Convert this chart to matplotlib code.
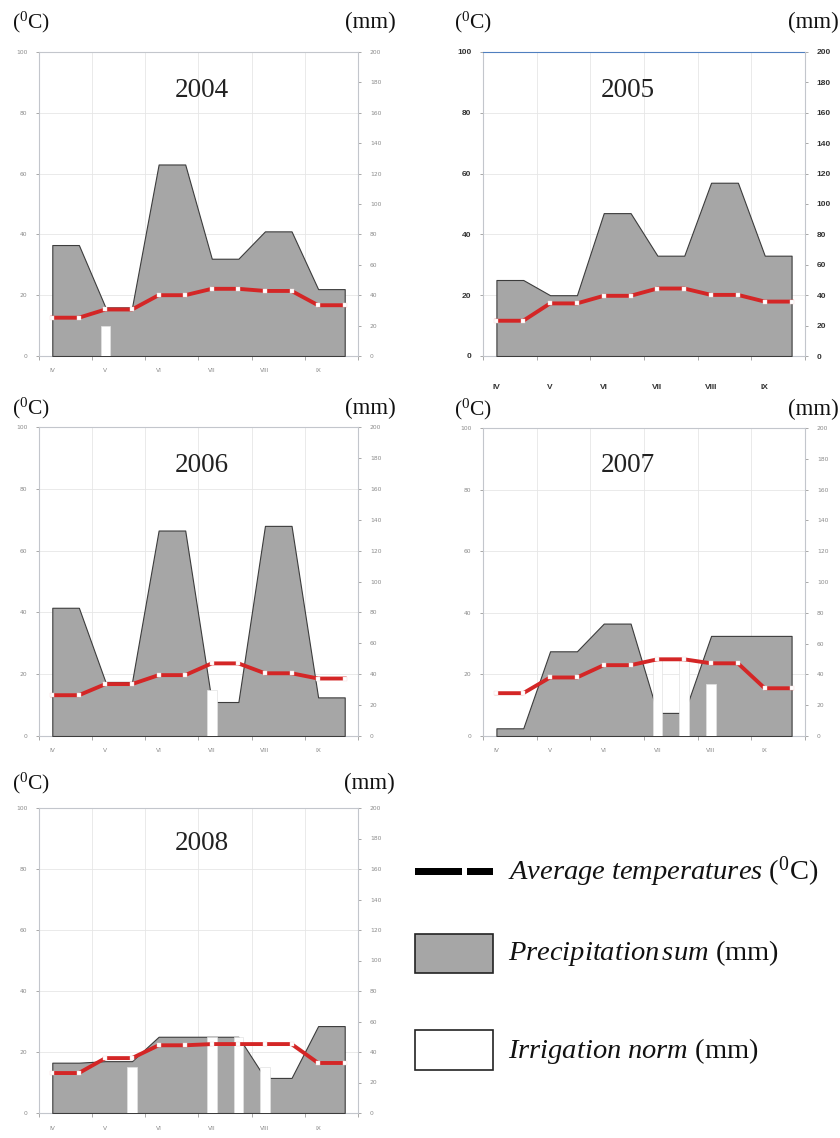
import numpy as np
import matplotlib
matplotlib.use("Agg")
import matplotlib.pyplot as plt
from matplotlib.patches import Rectangle

plt.rcParams['font.family'] = ['Liberation Serif', 'DejaVu Serif']
plt.rcParams['mathtext.fontset'] = 'custom'
plt.rcParams['mathtext.rm'] = 'Liberation Serif'
plt.rcParams['mathtext.it'] = 'Liberation Serif:italic'
plt.rcParams['mathtext.bf'] = 'Liberation Serif:bold'

# ---------------- data ----------------
months = ['IV', 'V', 'VI', 'VII', 'VIII', 'IX']
years = ['2004', '2005', '2006', '2007', '2008']
temp_ticks = [0, 20, 40, 60, 80, 100]
mm_ticks = [0, 20, 40, 60, 80, 100, 120, 140, 160, 180, 200]

# average temperature (deg C), two points per month
temp_2004 = [12.6, 12.6, 15.3, 15.3, 20.0, 20.0, 22.1, 22.1, 21.4, 21.4, 16.7, 16.7]
temp_2005 = [11.6, 11.6, 17.3, 17.3, 19.8, 19.8, 22.2, 22.2, 20.1, 20.1, 17.9, 17.9]
temp_2006 = [13.2, 13.2, 16.8, 16.8, 19.7, 19.7, 23.5, 23.5, 20.3, 20.3, 18.6, 18.6]
temp_2007 = [13.9, 13.9, 19.0, 19.0, 23.0, 23.0, 24.9, 24.9, 23.6, 23.6, 15.5, 15.5]
temp_2008 = [13.1, 13.1, 18.0, 18.0, 22.2, 22.2, 22.6, 22.6, 22.6, 22.6, 16.4, 16.4]

# precipitation sum (mm), two points per month
prec_2004 = [73, 73, 32, 32, 126, 126, 64, 64, 82, 82, 44, 44]
prec_2005 = [50, 50, 40, 40, 94, 94, 66, 66, 114, 114, 66, 66]
prec_2006 = [83, 83, 35, 35, 133, 133, 22, 22, 136, 136, 25, 25]
prec_2007 = [5, 5, 55, 55, 73, 73, 15, 15, 65, 65, 65, 65]
prec_2008 = [33, 33, 34, 34, 50, 50, 50, 50, 23, 23, 57, 57]

# irrigation norm (mm)
irr_2004 = [0, 0, 20, 0, 0, 0, 0, 0, 0, 0, 0, 0]
irr_2005 = [0, 0, 0, 0, 0, 0, 0, 0, 0, 0, 0, 0]
irr_2006 = [0, 0, 0, 0, 0, 0, 30, 0, 0, 0, 0, 0]
irr_2007 = [0, 0, 0, 0, 0, 0, 50, 50, 34, 0, 0, 0]
irr_2008 = [0, 0, 0, 30, 0, 0, 50, 50, 30, 0, 0, 0]

temps = [temp_2004, temp_2005, temp_2006, temp_2007, temp_2008]
precs = [prec_2004, prec_2005, prec_2006, prec_2007, prec_2008]
irrs = [irr_2004, irr_2005, irr_2006, irr_2007, irr_2008]

# ---------------- layout (pixels) ----------------
W, H = 840, 1138
fig = plt.figure(figsize=(W / 100, H / 100), dpi=100)
fig.patch.set_facecolor('white')

# (left, top, right, bottom) of each plot frame
frames = [(39, 52, 358, 356), (483, 52, 805, 356),
          (39, 427, 358, 736), (483, 428, 805, 736),
          (39, 808, 358, 1113)]
title_pos = [(202, 90), (628, 90), (202, 465), (628, 465), (202, 843)]
unit_y = [22, 22, 408, 409, 783]
unit_cx = [(31, 370), (473, 813), (31, 370), (473, 813), (31, 369)]

SPINE = '#c3c6cc'
TICKC = '#9a9a9a'


def to_fig(L, T, R, B):
    return [L / W, 1 - B / H, (R - L) / W, (B - T) / H]


for i, yr in enumerate(years):
    special = (yr == '2005')
    x = np.arange(len(temps[i]))
    ax = fig.add_axes(to_fig(*frames[i]))
    ax.set_xlim(-0.5, len(x) - 0.5)
    ax.set_ylim(0, 100)
    ax.set_axisbelow(True)
    bounds = np.arange(-0.5, len(x), 2)
    lab_pos = np.arange(0, len(x), 2)
    ax.set_xticks(bounds)
    ax.set_xticks(lab_pos, minor=True)
    ax.set_xticklabels(months, minor=True)
    ax.set_yticks(temp_ticks)
    ax.grid(True, which='major', color='#e6e6e6', lw=0.6)

    if special:
        lfam, lsize, lcol, xpad = 'Liberation Sans', 6.0, '#333333', 20
    else:
        lfam, lsize, lcol, xpad = 'DejaVu Sans', 4.3, '#8a8a8a', 9
    ax.tick_params(axis='y', direction='out', length=2.5, width=0.6, color=TICKC,
                   labelsize=lsize, labelcolor=lcol, pad=6, labelfontfamily=lfam)
    ax.tick_params(axis='x', which='major', direction='out', length=3, width=0.6,
                   color=TICKC, labelbottom=False)
    ax.tick_params(axis='x', which='minor', length=0, labelsize=lsize,
                   labelcolor=lcol, pad=xpad, labelfontfamily=lfam)
    for sp in ['left', 'top', 'bottom']:
        ax.spines[sp].set_color(SPINE)
        ax.spines[sp].set_linewidth(0.8)
    ax.spines['right'].set_visible(False)
    if special:
        ax.spines['top'].set_color('#4f7fbf')
        for t in ax.get_yticklabels() + ax.get_xticklabels(minor=True):
            t.set_fontweight('bold')

    # precipitation + irrigation on mm axis
    ax2 = ax.twinx()
    ax2.set_ylim(0, 200)
    ax2.set_yticks(mm_ticks)
    ax2.tick_params(axis='y', direction='out', length=2.5, width=0.6, color=TICKC,
                    labelsize=lsize, labelcolor=lcol, pad=6, labelfontfamily=lfam)
    for sp in ['left', 'top', 'bottom']:
        ax2.spines[sp].set_visible(False)
    ax2.spines['right'].set_color(SPINE)
    ax2.spines['right'].set_linewidth(0.8)
    if special:
        for t in ax2.get_yticklabels():
            t.set_fontweight('bold')

    ax2.fill_between(x, precs[i], 0, facecolor='#a6a6a6', edgecolor='#3c3c3c',
                     linewidth=0.8, zorder=2)
    irr = np.array(irrs[i])
    mask = irr > 0
    if mask.any():
        ax2.bar(x[mask], irr[mask], width=0.36, color='white',
                edgecolor='#e2e2e2', linewidth=0.5, zorder=3)

    # temperature on deg C axis (top layer)
    ax3 = ax.twinx()
    ax3.set_ylim(0, 100)
    ax3.axis('off')
    ax3.plot(x, temps[i], color='#d42626', lw=2.8, marker='s', ms=2.2,
             mfc='white', mec='#f6d6d6', mew=0.3, solid_joinstyle='round',
             zorder=4)

# ---------------- overlay for texts and legend ----------------
ov = fig.add_axes([0, 0, 1, 1])
ov.set_xlim(0, W)
ov.set_ylim(H, 0)
ov.axis('off')
ov.patch.set_visible(False)

for i, yr in enumerate(years):
    tx, ty = title_pos[i]
    ov.text(tx, ty, yr, fontsize=19.5, ha='center', va='center', color='#222222')
    cx, mx = unit_cx[i]
    ov.text(cx, unit_y[i], r'($^0$C)', fontsize=15.5, ha='center', va='center',
            color='#111111')
    ov.text(mx, unit_y[i], '(mm)', fontsize=16.5, ha='center', va='center',
            color='#111111')

# legend
ov.add_patch(Rectangle((415, 868), 47, 7, facecolor='black', edgecolor='none'))
ov.add_patch(Rectangle((467, 868), 26, 7, facecolor='black', edgecolor='none'))
ov.add_patch(Rectangle((415, 934), 78, 39, facecolor='#a6a6a6',
                       edgecolor='#222222', linewidth=1.2))
ov.add_patch(Rectangle((415, 1030), 78, 40, facecolor='white',
                       edgecolor='#222222', linewidth=1.2))
ov.text(508, 872, r'$\mathit{Average\ temperatures}$ ($^0$C)', fontsize=20.5,
        ha='left', va='center', color='#111111')
ov.text(508, 953, r'$\mathit{Precipitation\,sum}$ (mm)', fontsize=20.5,
        ha='left', va='center', color='#111111')
ov.text(508, 1051, r'$\mathit{Irrigation\ norm}$ (mm)', fontsize=20.5,
        ha='left', va='center', color='#111111')

fig.savefig('out.png', dpi=100, facecolor='white')
